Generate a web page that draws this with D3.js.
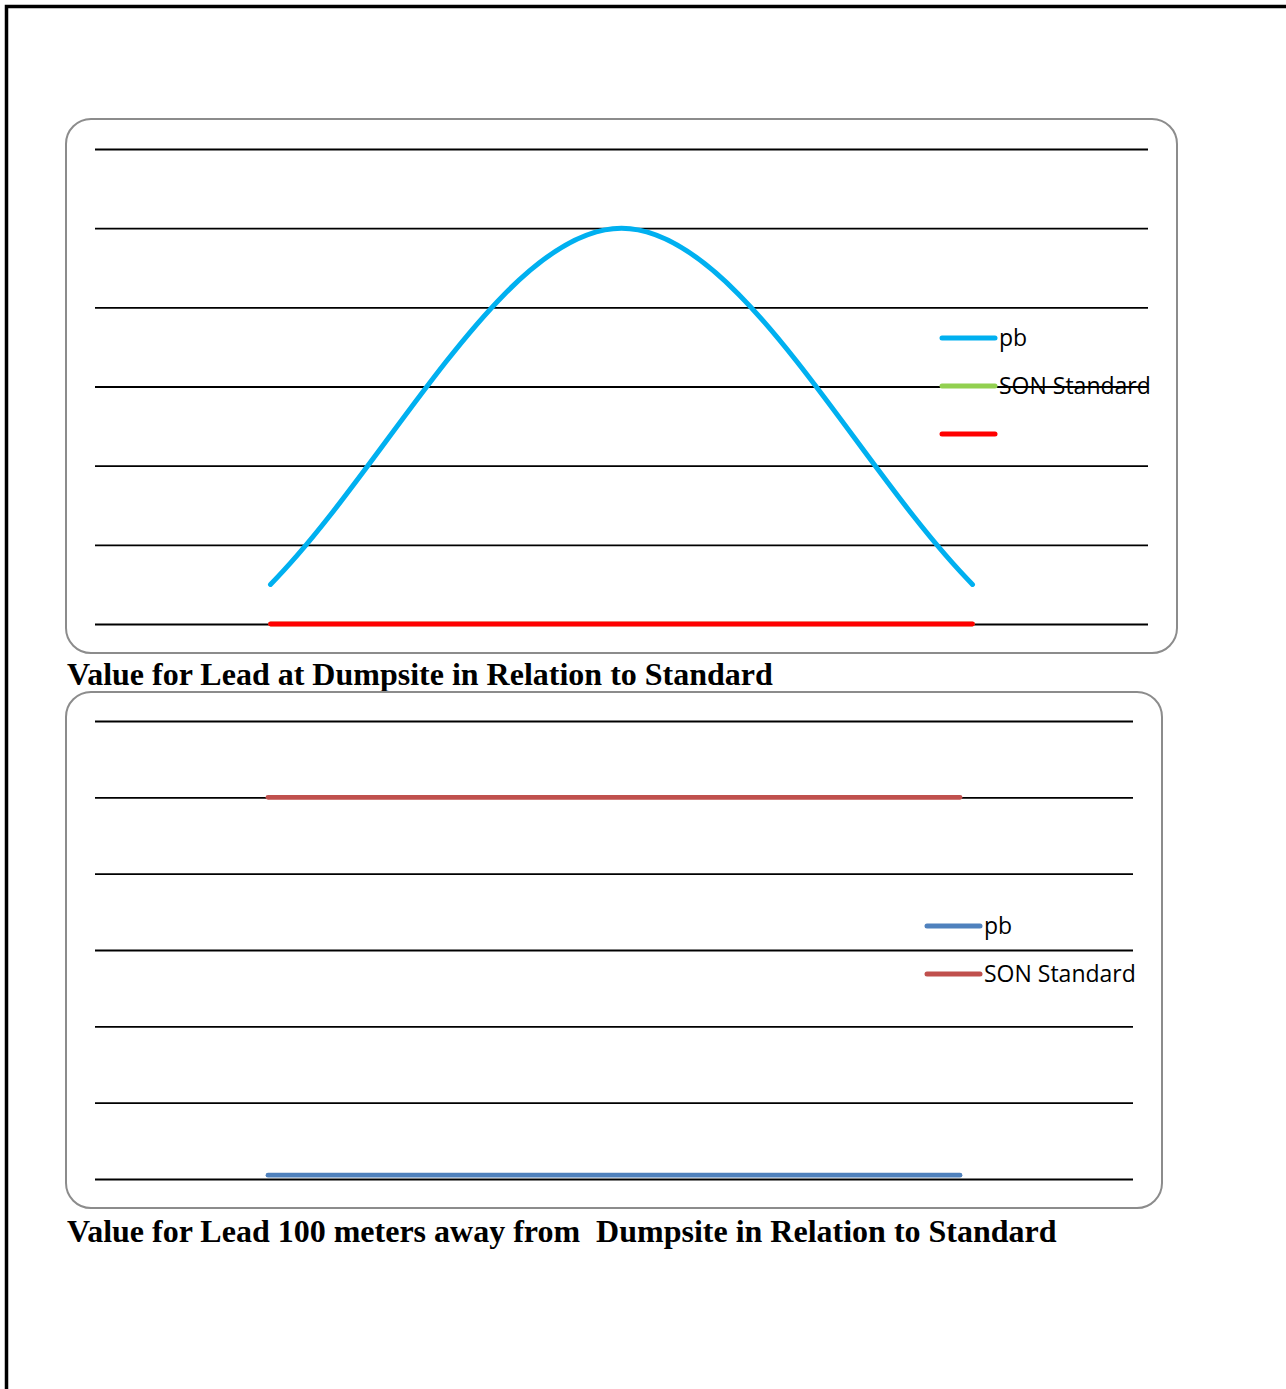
<!DOCTYPE html>
<html><head><meta charset="utf-8">
<script src="https://cdn.jsdelivr.net/npm/d3@7"></script>
<style>html,body{margin:0;padding:0;background:#fff;}svg{display:block;}</style>
</head><body>
<script>
// ---- data ----
const categories = ["Point 1", "Point 2", "Point 3"];
const yTicks = [0, 1, 2, 3, 4, 5, 6];
// Chart 1: Lead at dumpsite
const c1_pb = [0.5, 5.0, 0.5];
const c1_son = [0, 0, 0];
const c1_third = [0, 0, 0];
const c1_title = "Value for Lead at Dumpsite in Relation to Standard";
// Chart 2: Lead 100 m away
const c2_pb = [0.05, 0.05, 0.05];
const c2_son = [5, 5, 5];
const c2_title = "Value for Lead 100 meters away from  Dumpsite in Relation to Standard";

const W = 1286, H = 1389;
const svg = d3.select("body").append("svg").attr("width", W).attr("height", H);

// Spreadsheet-style smoothed line curve factory
function SmoothCurve(context) { this._context = context; }
SmoothCurve.prototype = {
  areaStart() { this._line = 0; },
  areaEnd() { this._line = NaN; },
  lineStart() { this._pts = []; },
  point(x, y) { this._pts.push([+x, +y]); },
  lineEnd() {
    const p = this._pts, c = this._context, n = p.length;
    if (!n) return;
    c.moveTo(p[0][0], p[0][1]);
    if (n === 1) return;
    const tan = i => {
      if (i === 0) return [(p[1][0] - p[0][0]) / 3, (p[1][1] - p[0][1]) / 3];
      if (i === n - 1) return [(p[n-1][0] - p[n-2][0]) / 3, (p[n-1][1] - p[n-2][1]) / 3];
      return [(p[i+1][0] - p[i-1][0]) / 6, (p[i+1][1] - p[i-1][1]) / 6];
    };
    for (let i = 0; i < n - 1; i++) {
      const t0 = tan(i), t1 = tan(i + 1);
      c.bezierCurveTo(p[i][0] + t0[0], p[i][1] + t0[1],
                      p[i+1][0] - t1[0], p[i+1][1] - t1[1],
                      p[i+1][0], p[i+1][1]);
    }
  }
};
const curveSmooth = ctx => new SmoothCurve(ctx);

// outer page frame
svg.append("path").attr("d", `M6.5,${H} V6.5 H${W}`)
  .attr("fill", "none").attr("stroke", "#000").attr("stroke-width", 3.5);

function drawChart(cfg) {
  const g = svg.append("g");
  g.append("rect").attr("x", cfg.box[0]).attr("y", cfg.box[1])
    .attr("width", cfg.box[2] - cfg.box[0]).attr("height", cfg.box[3] - cfg.box[1])
    .attr("rx", 25).attr("ry", 25)
    .attr("fill", "#fff").attr("stroke", "#8c8c8c").attr("stroke-width", 2);

  const x = d3.scalePoint().domain(categories).range([cfg.plot[0], cfg.plot[2]]).padding(0.5);
  const y = d3.scaleLinear().domain([0, 6]).range([cfg.plot[3], cfg.plot[1]]);

  // gridlines via axis
  const axis = d3.axisLeft(y).tickValues(yTicks).tickSize(-(cfg.plot[2] - cfg.plot[0])).tickFormat("");
  const ag = g.append("g").attr("transform", `translate(${cfg.plot[0]},0)`).call(axis);
  ag.select(".domain").remove();
  ag.selectAll(".tick line").attr("stroke", "#000").attr("stroke-width", 1.8);

  cfg.series.forEach(s => {
    const line = d3.line().x((d, i) => x(categories[i])).y(d => y(d))
      .curve(s.smooth ? curveSmooth : d3.curveLinear);
    g.append("path").datum(s.values).attr("d", line)
      .attr("fill", "none").attr("stroke", s.color).attr("stroke-width", s.width)
      .attr("stroke-linecap", "round").attr("stroke-linejoin", "round");
  });

  // legend
  cfg.series.forEach((s, i) => {
    const ly = cfg.legend[1] + i * cfg.legend[2];
    g.append("line").attr("x1", cfg.legend[0]).attr("x2", cfg.legend[0] + 53)
      .attr("y1", ly).attr("y2", ly).attr("stroke", s.color).attr("stroke-width", 5)
      .attr("stroke-linecap", "round");
    if (s.name) {
      g.append("text").attr("x", cfg.legend[0] + 57).attr("y", ly + 8)
        .attr("font-family", "'Open Sans', sans-serif").attr("font-size", 23)
        .attr("fill", "#000").text(s.name);
    }
  });

  svg.append("text").attr("x", 67).attr("y", cfg.titleY)
    .attr("font-family", "'Liberation Serif', 'Times New Roman', serif")
    .attr("font-weight", "bold").attr("font-size", 32).attr("fill", "#000")
    .attr("xml:space", "preserve").style("white-space", "pre")
    .text(cfg.title);
}

drawChart({
  box: [66, 119, 1177, 653],
  plot: [95, 149, 1148, 624],
  series: [
    { name: "pb", values: c1_pb, color: "#00B0F0", width: 5, smooth: true },
    { name: "SON Standard", values: c1_son, color: "#92D050", width: 4.5 },
    { name: "", values: c1_third, color: "#FF0000", width: 4.8 }
  ],
  legend: [942, 338, 48],
  title: c1_title, titleY: 685
});

drawChart({
  box: [66, 692, 1162, 1208],
  plot: [95, 721, 1133, 1179],
  series: [
    { name: "pb", values: c2_pb, color: "#4F81BD", width: 4.8 },
    { name: "SON Standard", values: c2_son, color: "#C0504D", width: 4.8 }
  ],
  legend: [927, 926, 48],
  title: c2_title, titleY: 1242
});
</script>
</body></html>
